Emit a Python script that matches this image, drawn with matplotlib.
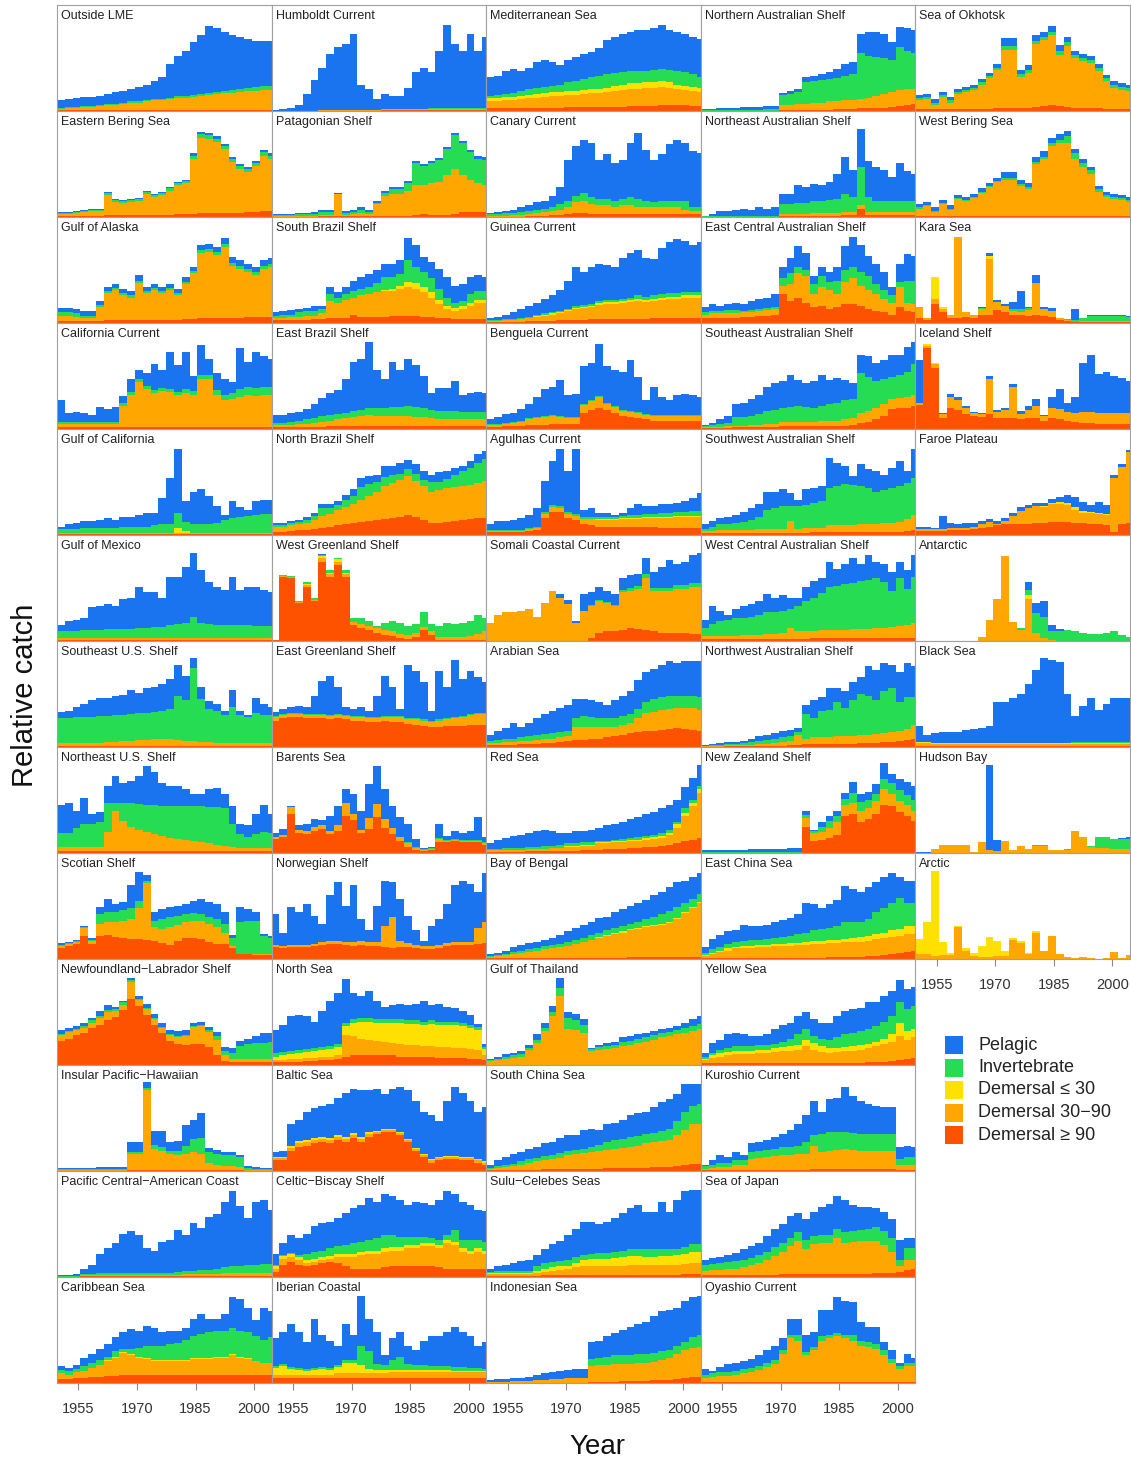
import numpy as np
import matplotlib
matplotlib.use('Agg')
import matplotlib.pyplot as plt
from matplotlib.patches import Rectangle

plt.rcParams['font.family'] = ['Liberation Sans', 'DejaVu Sans']

# two-year bins, 1950-51 ... 2004
years = list(range(1950, 2005, 2))

regions = [
    # column 1
    "Outside LME", "Eastern Bering Sea", "Gulf of Alaska", "California Current",
    "Gulf of California", "Gulf of Mexico", "Southeast U.S. Shelf", "Northeast U.S. Shelf",
    "Scotian Shelf", "Newfoundland\u2212Labrador Shelf", "Insular Pacific\u2212Hawaiian",
    "Pacific Central\u2212American Coast", "Caribbean Sea",
    # column 2
    "Humboldt Current", "Patagonian Shelf", "South Brazil Shelf", "East Brazil Shelf",
    "North Brazil Shelf", "West Greenland Shelf", "East Greenland Shelf", "Barents Sea",
    "Norwegian Shelf", "North Sea", "Baltic Sea", "Celtic\u2212Biscay Shelf", "Iberian Coastal",
    # column 3
    "Mediterranean Sea", "Canary Current", "Guinea Current", "Benguela Current",
    "Agulhas Current", "Somali Coastal Current", "Arabian Sea", "Red Sea", "Bay of Bengal",
    "Gulf of Thailand", "South China Sea", "Sulu\u2212Celebes Seas", "Indonesian Sea",
    # column 4
    "Northern Australian Shelf", "Northeast Australian Shelf", "East Central Australian Shelf",
    "Southeast Australian Shelf", "Southwest Australian Shelf", "West Central Australian Shelf",
    "Northwest Australian Shelf", "New Zealand Shelf", "East China Sea", "Yellow Sea",
    "Kuroshio Current", "Sea of Japan", "Oyashio Current",
    # column 5
    "Sea of Okhotsk", "West Bering Sea", "Kara Sea", "Iceland Shelf", "Faroe Plateau",
    "Antarctic", "Black Sea", "Hudson Bay", "Arctic",
]
panels_per_column = [13, 13, 13, 13, 9]

# relative catch (% of panel height), one list per region, same order as regions
demersal_large = [
    [1] * 28,
    [1,1,1,1,1,1,2, 2,2,2,2,2,2,2, 2,3,3,3,4,4,4, 4,4,4,5,5,6,6],
    [2,2,2,2,2,2,3, 3,3,3,3,3,3,3, 3,3,4,4,5,5,5, 5,5,5,6,6,6,6],
    [2] * 28,
    [1] * 28,
    [1] * 28,
    [1] * 28,
    [2] * 28,
    [10,12,14,22,14,22,23, 21,20,19,19,18,17,15, 13,17,20,20,19,16,14, 14,10,5,5,4,4,4],
    [23,25,28,30,35,38,42, 45,52,62,56,47,38,30, 23,20,19,20,20,17,9, 4,3,3,3,3,3,3],
    [0,0,0,0,0,0,0, 0,0,1,1,1,1,1, 1,1,1,1,1,1,1, 1,1,1,0,0,0,0],
    [0,0,0,1,1,1,1, 1,1,1,1,1,1,1, 1,1,1,1,1,1,1, 1,1,1,1,1,1,1],
    [4,4,5,5,6,6,7, 7,8,8,8,8,8,8, 8,8,8,8,8,8,8, 8,8,8,8,8,8,8],
    [0,0,0,0,0,0,0, 0,0,0,0,0,0,0, 1,1,1,1,1,1,1, 1,1,1,1,1,1,1],
    [0,0,0,0,0,0,1, 1,1,1,1,1,1,1, 1,1,1,1,2,3,2, 2,2,3,5,5,5,5],
    [3,3,3,3,3,4,4, 5,5,5,8,6,6,6, 6,7,7,7,7,6,6, 5,5,4,4,4,4,4],
    [2,2,2,2,2,2,2, 3,3,3,3,3,3,3, 3,3,3,3,3,3,3, 3,3,3,3,3,3,3],
    [3,3,4,5,5,6,7, 8,9,10,11,12,13,14, 15,16,17,19,17,14,11, 11,12,13,14,15,16,16],
    [1,60,59,36,51,38,75, 60,72,60,15,12,10,8, 6,5,3,2,4,10,6, 1,1,1,1,1,1,1],
    [25,27,28,28,27,27,27, 26,27,26,25,25,24,24, 25,24,24,22,21,20,19, 19,20,20,20,21,21,21],
    [13,15,37,19,18,21,23, 18,21,35,31,19,23,34, 24,18,11,6,3,2,3, 10,10,11,10,10,10,8],
    [11,10,11,11,11,12,13, 14,14,13,12,13,12,12, 11,10,11,11,10,9,9, 10,12,13,13,13,14,15],
    [3,3,3,3,4,4,5, 5,6,8,9,9,9,9, 9,9,8,8,8,8,8, 7,7,7,7,6,6,5],
    [10,10,19,23,24,26,27, 26,29,27,31,27,32,35, 37,37,34,27,19,13,8, 10,11,11,10,10,8,6],
    [5,11,14,11,10,11,13, 14,13,10,8,8,8,8, 9,10,10,10,10,10,10, 9,8,8,8,8,8,8],
    [5] * 28,
    [3,3,3,3,3,3,3, 3,3,3,4,4,4,4, 4,4,4,4,5,5,5, 5,6,6,6,6,5,5],
    [0,0,0,0,0,1,1, 1,2,2,3,4,4,3, 3,3,3,3,3,3,3, 3,3,3,3,3,3,3],
    [1,1,1,1,1,2,2, 2,2,3,3,3,3,4, 4,4,4,4,4,4,4, 5,5,5,5,5,5,5],
    [2,2,3,3,3,4,4, 4,5,5,5,5,15,18, 20,18,15,12,11,10,9, 8,8,8,8,8,8,8],
    [3,3,3,3,3,4,5, 16,22,22,16,14,10,9, 8,8,8,8,8,8,8, 8,7,7,7,7,7,7],
    [0,0,0,0,0,0,0, 0,0,0,0,0,0,3, 8,9,9,10,12,11,10, 9,8,8,8,8,7,7],
    [2,2,2,2,3,3,3, 4,4,5,6,7,7,8, 8,9,10,11,13,14,15, 15,16,17,18,17,16,15],
    [1,1,1,1,1,2,2, 2,2,2,2,2,3,3, 3,4,4,4,5,5,6, 6,7,8,9,11,12,14],
    [1,1,1,1,1,1,1, 1,1,1,1,1,1,1, 1,1,1,1,2,2,2, 2,2,2,2,2,2,2],
    [0] * 28,
    [1,1,1,1,1,1,1, 2,2,2,2,2,2,2, 2,3,3,3,3,3,3, 4,4,4,5,6,7,7],
    [1,1,1,1,1,1,1, 2,2,2,2,2,2,2, 2,2,2,2,2,2,2, 2,2,2,2,3,3,3],
    [0,0,0,0,0,0,0, 0,0,0,0,0,0,1, 1,1,1,2,2,2,2, 3,3,3,4,5,6,6],
    [0,0,0,0,0,0,0, 0,0,0,1,1,1,1, 1,1,1,2,2,2,3, 3,3,3,4,5,6,7],
    [0,0,0,0,0,0,0, 0,0,0,1,1,1,1, 1,1,1,1,2,2,8, 2,2,2,2,2,2,2],
    [5,5,5,5,5,6,6, 7,7,8,27,21,24,19, 15,16,13,15,18,18,16, 13,11,10,8,15,11,10],
    [1,1,1,1,2,2,2, 2,2,2,3,3,3,3, 3,3,3,3,3,4,6, 7,9,12,19,20,20,22],
    [2,2,2,2,2,2,2, 2,2,2,2,2,2,2, 3,3,3,3,3,3,3, 3,3,3,3,3,4,5],
    [2,2,2,2,2,2,2, 2,2,2,2,2,2,2, 3,3,3,3,3,3,3, 3,3,3,3,3,3,3],
    [0,0,0,1,1,1,1, 1,1,1,1,2,2,3, 3,3,3,3,3,3,4, 4,4,5,5,6,7,8],
    [0,0,0,0,0,0,0, 0,0,0,0,0,0,25, 11,12,14,17,35,37,29, 32,37,45,44,39,35,30],
    [1,1,1,1,1,1,1, 1,1,1,1,1,1,1, 1,1,2,2,2,2,2, 3,3,4,5,6,7,8],
    [2,2,2,2,2,2,2, 2,2,2,2,2,2,2, 2,2,2,2,2,2,2, 3,3,3,4,5,6,7],
    [1,1,1,1,1,1,1, 1,1,1,1,1,1,1, 2,2,2,2,2,2,2, 2,2,2,2,1,1,1],
    [2,2,2,2,2,2,2, 2,2,2,3,3,3,3, 3,3,3,3,3,3,3, 3,4,4,4,5,7,8],
    [1] * 28,
    [2,2,2,2,2,2,2, 2,2,2,3,3,3,3, 3,4,5,6,5,4,3, 3,3,3,2,2,2,2],
    [1] * 28,
    [5,3,18,10,5,5,6, 5,8,8,12,10,8,8, 7,8,7,6,3,2,1, 1,1,1,1,1,1,1],
    [23,76,58,10,20,18,14, 12,11,14,10,10,10,9, 10,10,8,10,9,8,7, 6,6,5,5,5,5,5],
    [4,4,4,4,5,5,5, 6,7,8,9,10,10,10, 10,11,11,12,12,12,11, 11,10,10,9,3,10,11],
    [0] * 28,
    [1] * 28,
    [0] * 28,
    [0] * 28,
]

demersal_mid = [
    [1,2,2,3,3,4,5, 5,6,7,7,8,9,9, 10,11,11,12,13,14,15, 16,16,17,18,18,19,19],
    [2,2,3,4,5,5,19, 12,11,12,13,20,17,19, 23,27,29,52,71,70,67, 60,48,41,37,43,52,49],
    [5,5,4,3,3,13,25, 28,23,21,35,25,28,25, 28,23,33,43,61,62,59, 67,49,46,42,39,45,47],
    [3,3,3,3,3,3,3, 3,20,30,42,36,32,34, 33,30,32,30,45,45,30, 25,26,28,30,29,30,30],
    [1] * 28,
    [2] * 28,
    [3,3,3,3,3,3,4, 4,5,5,6,6,7,7, 7,6,5,5,4,4,3, 3,3,3,3,3,3,3],
    [4,4,4,4,4,4,18, 38,28,23,20,18,16,14, 12,11,10,9,8,7,6, 5,4,3,3,3,3,3],
    [2,2,2,7,3,11,12, 14,16,19,29,54,13,13, 17,15,15,16,17,17,16, 11,2,0,0,1,1,1],
    [5,6,5,5,5,6,8, 6,5,16,5,6,5,5, 5,6,8,16,17,14,15, 5,3,3,3,3,3,3],
    [1,1,1,1,1,1,1, 1,1,15,15,75,20,18, 15,14,15,17,15,7,5, 4,4,3,1,1,1,1],
    [0,0,0,1,1,1,1, 1,1,1,1,1,1,1, 1,1,2,2,2,2,2, 3,3,3,3,3,3,3],
    [5,4,5,6,8,11,14, 17,20,18,16,15,13,13, 13,13,13,15,15,15,16, 16,18,16,15,13,11,11],
    [0,0,0,0,0,0,1, 1,1,1,1,1,1,1, 1,1,1,1,1,1,1, 1,1,1,1,1,1,1],
    [1,1,1,1,1,1,1, 1,21,1,2,3,2,11, 19,21,21,24,28,27,30, 31,38,42,35,30,27,25],
    [2,2,3,3,4,3,5, 16,14,17,16,20,21,23, 24,23,25,27,25,23,18, 13,8,7,9,12,15,15],
    [2,2,2,3,3,4,5, 5,6,7,8,9,10,9, 9,9,9,9,8,8,7, 6,6,6,6,6,6,6],
    [5,5,5,5,6,8,11, 12,15,16,18,21,24,27, 31,33,35,37,34,32,30, 31,32,32,32,32,33,35],
    [0,1,1,1,2,1,3, 3,3,3,3,4,4,4, 4,4,4,4,4,3,3, 3,3,3,3,4,6,8],
    [3,3,3,3,3,3,3, 3,3,3,3,3,3,3, 3,4,4,4,5,5,5, 6,6,7,8,9,10,10],
    [2,2,6,3,3,4,3, 3,5,12,6,3,10,12, 8,6,4,3,2,1,1, 3,1,1,1,1,1,1],
    [2,2,2,2,2,2,3, 3,3,3,4,4,4,4, 20,30,6,4,3,3,3, 3,3,3,3,3,15,20],
    [2,2,3,3,3,3,3, 3,3,20,18,16,15,14, 13,12,12,11,11,10,10, 10,10,9,9,9,8,4],
    [2,2,3,3,3,3,3, 3,3,3,3,3,3,2, 2,2,2,2,2,2,2, 2,2,2,2,2,2,2],
    [3,6,5,5,3,3,3, 3,6,9,11,13,14,14, 15,15,15,17,17,19,19, 18,24,22,16,14,16,14],
    [3,3,3,3,3,3,3, 3,4,4,4,4,4,4, 4,5,5,5,5,5,5, 5,5,5,5,5,5,5],
    [6,6,7,7,8,9,9, 10,11,11,11,11,12,13, 13,14,15,16,16,16,17, 17,17,16,15,14,14,13],
    [1,1,1,2,2,2,3, 4,4,5,6,10,11,9, 8,8,6,8,8,6,6, 6,6,6,6,4,3,3],
    [1,1,2,2,3,3,4, 5,6,6,8,10,11,11, 13,14,14,15,16,17,16, 16,17,18,18,19,19,19],
    [2,2,2,3,4,5,6, 7,7,6,5,5,8,8, 10,6,6,5,5,5,4, 4,4,4,4,4,4,4],
    [1,1,1,1,1,2,2, 4,4,3,4,4,5,6, 6,6,6,7,7,7,8, 8,9,9,10,10,10,10],
    [17,25,27,27,28,30,23, 36,47,41,35,17,28,30, 30,27,24,36,35,38,49, 38,39,39,41,41,44,44],
    [2,2,3,3,3,3,4, 4,4,4,4,12,12,11, 11,10,9,10,10,13,17, 18,19,19,19,20,21,20],
    [2,2,2,2,2,2,2, 2,3,3,4,4,4,4, 6,5,6,6,6,6,6, 7,7,9,15,24,32,43],
    [1,2,3,4,5,6,7, 8,9,10,11,13,15,17, 19,21,23,24,25,26,28, 29,30,32,36,41,46,51],
    [4,5,6,7,8,14,21, 32,46,65,34,33,30,13, 14,15,16,18,19,21,22, 24,26,27,29,30,32,34],
    [1,2,3,4,5,7,8, 8,9,10,13,14,15,16, 17,17,18,19,20,21,23, 23,24,25,29,33,37,37],
    [2,2,2,2,2,2,3, 3,4,5,6,7,8,8, 8,8,8,8,9,9,9, 9,9,9,9,9,10,10],
    [1,1,1,2,2,2,3, 3,4,4,5,5,5,15, 16,16,17,16,16,17,17, 17,19,21,23,26,27,28],
    [0,0,0,0,0,0,0, 0,0,0,5,5,6,6, 7,7,8,7,8,8,8, 9,11,13,14,15,15,14],
    [0,0,0,0,0,0,0, 0,0,0,2,2,2,2, 3,3,3,3,3,3,3, 3,3,3,3,3,3,3],
    [3,4,4,4,4,4,4, 4,5,5,8,16,23,25, 12,18,18,12,21,24,19, 18,16,13,11,19,8,8],
    [1,1,1,2,1,1,2, 2,3,3,4,4,4,4, 4,5,5,5,6,6,9, 10,11,12,9,9,10,10],
    [2,2,3,3,3,3,3, 4,4,4,4,11,4,5, 4,4,6,6,6,6,7, 7,7,8,8,9,11,14],
    [3,3,3,3,3,4,4, 4,5,5,6,10,7,7, 6,7,7,7,7,8,8, 8,9,9,10,11,12,14],
    [1,1,1,1,1,1,1, 2,2,3,4,4,9,5, 6,6,6,7,7,7,7, 7,8,8,9,9,10,13],
    [0,0,0,0,0,0,0, 0,0,0,0,0,0,8, 8,8,10,12,10,10,11, 10,12,15,12,10,10,10],
    [2,4,6,7,9,9,9, 10,10,11,11,11,12,12, 13,13,13,13,14,14,14, 14,16,16,16,16,17,16],
    [3,5,6,7,8,8,8, 9,9,10,11,11,12,16, 12,10,9,10,11,11,12, 13,15,17,18,22,18,19],
    [1,2,3,3,5,5,10, 11,12,13,14,14,15,15, 22,16,17,18,19,18,17, 17,17,17,17,5,5,5],
    [4,5,5,6,6,7,9, 11,14,18,21,26,31,23, 28,29,29,34,29,30,31, 31,30,26,20,5,9,8],
    [4,5,6,6,7,8,9, 11,14,17,26,41,39,25, 30,39,41,43,41,39,34, 33,31,25,18,12,15,15],
    [8,9,4,11,6,14,16, 18,23,29,36,55,55,29, 33,59,62,66,48,57,47, 44,42,35,26,20,18,17],
    [7,9,4,11,6,16,14, 17,22,27,32,34,34,28, 25,49,54,66,69,69,54, 46,40,23,18,16,15,13],
    [10,2,5,3,3,76,4, 3,5,52,8,6,3,2, 5,30,6,5,2,1,0, 1,1,1,1,1,1,1],
    [2,2,3,4,10,9,6, 3,3,33,6,8,30,5, 8,12,4,10,10,8,8, 10,10,10,10,10,10,10],
    [2,2,2,2,2,2,2, 2,3,4,1,3,8,13, 15,16,15,17,17,16,13, 10,11,10,10,51,54,67],
    [0,0,0,0,0,0,0, 0,4,20,40,80,18,10, 40,8,3,1,0,0,0, 0,0,0,0,0,0,0],
    [3,3,2,2,2,2,2, 2,2,2,2,2,2,2, 2,2,2,2,2,2,2, 2,2,2,2,2,2,2],
    [0,0,4,8,8,8,8, 1,10,3,2,11,3,7, 4,7,7,3,3,3,21, 15,6,5,5,4,4,4],
    [5,5,3,4,4,30,8, 3,2,2,3,3,18,15, 5,25,8,22,5,2,1, 2,1,0,1,7,1,4],
]

demersal_small = [
    [0] * 28, [0] * 28, [0] * 28, [0] * 28,
    [0,0,0,0,0,0,0, 0,0,0,0,0,0,0, 0,5,2,0,0,0,0, 0,0,0,0,0,0,0],
    [0] * 28, [0] * 28, [0] * 28, [0] * 28, [0] * 28, [0] * 28, [0] * 28,
    [0,0,0,0,0,0,1, 1,1,1,1,1,1,1, 1,1,1,1,1,1,1, 1,1,1,1,0,0,0],
    [0] * 28, [0] * 28,
    [0,0,0,0,0,0,0, 0,0,0,0,0,0,0, 1,2,3,5,6,5,5, 4,3,3,3,3,3,3],
    [0] * 28, [0] * 28,
    [0,0,0,0,1,0,2, 1,2,1,0,0,0,0, 0,0,0,0,0,0,0, 0,0,0,0,0,0,0],
    [0] * 28, [0] * 28, [0] * 28,
    [3,4,4,5,5,6,6, 7,8,9,13,16,17,17, 18,19,20,20,20,20,21, 21,21,22,21,20,19,6],
    [1,1,2,2,2,2,2, 2,2,2,2,2,2,1, 1,1,1,1,1,1,1, 1,1,1,1,1,1,1],
    [2,3,3,3,3,3,3, 3,3,3,3,3,3,3, 3,3,3,3,3,3,3, 3,3,3,3,3,3,3],
    [6,8,5,4,3,4,5, 4,6,10,10,8,4,3, 3,2,2,2,2,2,2, 2,2,1,1,1,1,1],
    [3,3,3,3,3,3,4, 4,4,4,4,4,4,4, 4,4,5,5,5,5,5, 5,5,5,4,4,4,4],
    [0] * 28,
    [0,0,0,0,0,0,1, 1,1,1,1,1,1,1, 2,2,2,2,2,2,2, 2,2,2,2,2,2,2],
    [0] * 28,
    [0,0,0,0,0,0,0, 0,0,0,0,0,0,0, 1,1,1,1,1,1,1, 1,1,1,1,1,1,1],
    [0] * 28, [0] * 28,
    [0,0,0,0,0,0,0, 0,0,0,1,1,1,1, 1,1,1,1,1,1,2, 2,2,2,3,3,3,3],
    [0,0,0,0,0,0,0, 0,0,0,0,0,0,0, 1,1,1,1,1,1,1, 1,1,1,1,1,1,1],
    [0] * 28, [0] * 28,
    [1,1,1,1,1,1,2, 3,3,3,2,4,6,7, 7,7,8,9,9,9,8, 8,9,9,10,10,11,11],
    [0] * 28,
    [0] * 28, [0] * 28, [0] * 28, [0] * 28, [0] * 28, [0] * 28, [0] * 28, [0] * 28,
    [1,1,1,2,1,2,2, 2,2,2,2,3,2,3, 3,3,3,3,3,4,5, 5,5,5,6,6,7,7],
    [1,2,3,3,3,3,3, 3,3,4,4,5,5,6, 7,6,5,4,4,5,5, 4,4,5,7,13,8,8],
    [0] * 28, [0] * 28, [0] * 28, [0] * 28, [0] * 28,
    [0,0,20,2,0,0,0, 0,0,3,0,0,0,0, 0,0,0,0,0,0,0, 0,0,0,0,0,0,0],
    [0,2,1,0,0,0,0, 0,0,0,0,0,0,0, 0,0,0,0,0,0,0, 0,0,0,0,0,0,0],
    [0,0,0,0,0,0,0, 0,0,0,0,0,0,0, 0,0,1,1,2,2,2, 2,1,1,1,0,0,0],
    [0,0,0,0,0,0,0, 0,0,0,0,0,0,0, 3,0,0,0,0,0,0, 0,0,0,0,0,0,0],
    [1] * 28,
    [0] * 28,
    [14,30,80,12,2,1,2, 3,10,19,14,5,2,2, 1,1,0,0,0,0,0, 0,0,0,0,0,0,0],
]

invertebrate = [
    [1,1,1,1,1,1,1, 1,1,1,1,1,1,1, 1,2,2,2,2,2,2, 2,3,3,3,4,4,4],
    [1,1,1,1,1,1,2, 2,2,2,2,2,2,2, 2,2,2,3,3,3,3, 3,3,3,3,3,3,3],
    [3,3,3,2,2,2,2, 2,2,2,2,2,2,2, 2,2,2,2,3,3,3, 3,3,3,3,3,3,3],
    [2,2,2,2,2,2,2, 2,3,3,3,3,3,3, 3,3,4,4,4,4,5, 5,6,8,8,8,8,8],
    [4,4,4,5,5,5,5, 5,6,6,6,6,7,8, 8,14,8,8,8,8,9, 12,14,15,16,17,18,18],
    [6,6,6,7,7,7,8, 8,8,8,9,9,10,10, 12,13,14,20,14,13,12, 12,12,12,12,11,11,11],
    [23,23,24,24,24,25,24, 25,24,25,25,25,25,26, 28,41,38,69,40,31,30, 26,34,26,24,28,26,26],
    [13,13,18,21,21,23,27, 7,17,22,24,25,27,28, 30,31,32,33,34,34,35, 35,21,13,10,13,15,14],
    [1,1,1,1,1,9,9, 9,10,10,7,2,6,10, 10,9,7,7,6,7,8, 8,8,30,31,31,17,15],
    [1,1,1,2,2,2,2, 2,2,2,1,1,1,1, 1,1,1,1,1,2,3, 4,5,12,14,15,15,16],
    [1,1,1,1,1,1,1, 1,1,2,2,2,4,4, 3,4,8,12,15,10,10, 10,10,9,2,1,1,1],
    [1,1,1,1,1,2,2, 2,2,2,2,2,2,2, 2,3,3,3,4,4,5, 5,6,6,7,7,8,8],
    [3,3,3,5,5,5,3, 5,3,5,8,11,13,13, 15,16,19,20,22,24,24, 24,25,24,24,23,22,24],
    [0,0,0,0,0,0,0, 0,0,0,0,0,0,0, 0,0,0,0,0,0,1, 1,1,1,1,1,1,1],
    [1,1,1,2,2,2,3, 3,0,2,2,3,2,1, 3,4,4,7,21,18,19, 21,24,32,30,26,23,24],
    [2,3,2,4,4,4,4, 6,5,5,6,6,7,9, 12,11,11,20,15,14,13, 10,8,5,5,8,8,8],
    [2,2,3,3,4,4,5, 5,5,5,6,6,7,8, 8,9,9,10,10,9,8, 8,8,8,7,7,7,7],
    [1,1,2,2,3,4,7, 5,4,7,8,12,11,9, 9,8,6,6,7,6,9, 8,9,12,14,16,19,21],
    [0,1,1,1,2,2,1, 3,1,3,4,6,5,2, 7,10,10,8,8,14,7, 10,13,12,13,14,18,13],
    [1] * 28,
    [0,0,0,0,0,0,0, 0,0,0,0,0,0,0, 0,0,0,1,1,1,1, 1,1,1,1,1,1,1],
    [0] * 28,
    [3,3,3,3,3,3,3, 3,3,3,3,3,3,3, 3,3,3,3,3,3,3, 3,3,3,3,3,3,2],
    [0] * 28,
    [1,1,1,2,6,7,6, 7,7,8,10,9,10,12, 13,12,10,8,8,6,5, 5,5,11,8,10,8,8],
    [2,2,2,2,2,2,2, 2,2,3,3,18,17,6, 5,10,13,6,5,5,4, 4,4,4,4,3,3,2],
    [2,3,3,4,5,6,6, 6,6,7,8,9,10,11, 12,13,12,12,12,12,11, 12,12,12,13,13,12,10],
    [2,2,3,2,3,3,3, 3,3,5,6,6,8,7, 6,6,6,6,8,8,6, 5,6,6,6,8,3,3],
    [1,1,1,1,1,1,1, 1,1,1,1,2,2,2, 2,2,2,2,2,3,3, 3,3,3,3,3,3,3],
    [1] * 28,
    [1,1,1,1,1,1,1, 2,2,2,2,2,2,2, 2,2,2,2,3,3,3, 3,4,4,4,4,5,5],
    [0,0,0,0,0,0,0, 0,0,0,0,0,0,1, 1,1,1,2,3,3,4, 3,3,3,4,4,4,4],
    [2,3,3,3,3,4,4, 4,5,5,5,8,10,9, 8,8,8,8,8,9,10, 12,12,12,11,11,11,12],
    [1,1,2,2,2,2,2, 3,2,3,2,2,2,2, 1,1,1,2,2,3,2, 2,3,3,2,4,3,3],
    [1,1,1,2,2,2,2, 3,3,3,4,4,4,5, 4,4,4,5,5,6,7, 8,9,10,10,9,8,7],
    [1,1,2,2,2,2,3, 3,4,8,10,9,8,2, 3,3,3,4,4,4,4, 4,4,4,4,5,5,5],
    [1,2,2,2,3,3,3, 4,4,5,4,4,4,5, 6,7,8,8,9,9,9, 9,10,11,13,17,17,19],
    [1,2,2,2,2,2,4, 5,5,5,6,6,5,5, 6,6,6,6,6,6,7, 7,6,6,5,6,7,7],
    [0,0,0,0,0,0,0, 0,0,0,0,0,0,7, 7,8,8,8,8,8,8, 8,8,7,8,8,10,11],
    [1,1,1,1,1,1,1, 1,2,2,9,10,11,20, 20,21,21,22,23,25,44, 40,37,34,30,40,36,34],
    [1,1,1,1,1,1,1, 1,1,1,9,9,10,10, 11,11,12,13,17,14,36, 14,10,10,10,10,10,10],
    [2,2,2,3,3,1,2, 2,2,2,7,10,6,6, 10,10,8,13,11,11,13, 13,10,8,7,5,21,22],
    [1,2,3,3,8,8,8, 10,12,13,13,14,15,14, 13,14,16,17,18,18,38, 32,25,23,21,22,24,29],
    [2,4,5,5,6,7,9, 11,18,19,21,14,21,21, 23,25,35,37,39,38,36, 34,31,31,33,34,34,35],
    [7,11,14,15,17,16,17, 19,20,20,20,18,24,29, 32,35,41,42,44,44,46, 47,47,44,34,45,34,43],
    [0,1,1,1,1,2,3, 3,4,4,4,4,3,23, 18,25,26,32,27,34,39, 37,32,40,42,27,30,26],
    [1,1,1,1,1,1,1, 1,1,1,1,1,1,3, 2,5,6,6,6,10,8, 8,7,10,10,10,10,10],
    [2,3,3,4,5,5,6, 5,6,6,7,7,9,9, 10,11,11,13,16,15,14, 16,20,23,26,30,22,22],
    [2,2,3,4,5,5,5, 5,5,4,5,7,10,10, 6,7,8,10,12,12,13, 14,15,16,17,19,21,22],
    [3,3,4,4,4,4,7, 7,7,7,8,8,8,11, 10,17,18,17,16,16,16, 16,16,16,16,5,7,7],
    [5,5,6,6,7,7,7, 8,8,8,8,8,8,9, 8,8,8,8,10,10,10, 11,13,13,13,6,11,11],
    [3,3,3,3,3,4,4, 4,4,4,4,3,5,3, 3,4,3,3,3,5,5, 5,5,5,4,3,3,3],
    [2,2,2,2,2,2,2, 2,2,2,2,3,3,3, 3,3,3,3,4,4,3, 3,3,3,3,3,3,3],
    [1,1,1,1,1,1,1, 1,1,1,1,2,2,2, 2,2,2,3,3,6,5, 4,3,2,2,2,2,2],
    [0,0,0,0,0,0,0, 0,1,0,0,0,2,3, 2,0,0,0,0,1,2, 3,5,5,5,5,5,4],
    [0] * 28,
    [0] * 28,
    [0,0,0,0,0,0,0, 0,0,0,0,0,0,2, 5,18,20,8,9,10,9, 8,7,7,8,9,6,4],
    [0,0,0,0,0,0,0, 0,0,0,0,0,0,0, 0,0,0,0,0,0,1, 1,1,1,1,1,1,1],
    [0,0,0,0,0,0,0, 0,0,0,0,0,0,0, 0,1,1,0,0,1,0, 0,1,10,10,9,9,9],
    [0] * 28,
]

pelagic = [
    [7,7,8,8,8,8,9, 11,11,12,14,15,17,21, 32,38,43,50,56,63,60, 56,52,49,46,43,42,42],
    [1,1,1,1,1,1,1, 1,1,1,1,1,1,1, 1,1,1,2,2,2,2, 2,2,2,2,2,2,2],
    [4,4,4,4,4,4,4, 4,4,4,5,4,4,4, 4,4,4,4,5,5,5, 5,5,5,5,5,5,5],
    [20,8,9,8,6,14,12, 14,6,12,9,12,24,17, 35,25,35,14,28,15,16, 15,10,38,23,34,29,26],
    [2,4,5,6,6,7,9, 7,9,9,11,13,12,25, 44,60,20,31,33,27,16, 5,16,9,6,13,13,13],
    [6,10,11,12,22,23,24, 22,29,30,39,34,33,28, 45,44,53,60,50,40,36, 33,45,33,36,37,34,32],
    [6,7,10,13,16,17,17, 18,19,23,19,24,24,25, 28,29,23,9,12,7,7, 4,16,4,2,14,11,8],
    [26,28,16,25,10,10,16, 26,19,21,27,37,31,22, 19,19,16,12,12,17,18, 14,17,9,11,19,25,18],
    [2,1,1,1,2,7,13, 8,8,22,27,5,8,9, 9,9,10,12,15,14,14, 11,3,14,11,8,2,2],
    [4,3,3,3,2,5,5, 2,1,2,3,4,4,4, 4,5,5,3,3,3,4, 4,5,5,5,6,9,8],
    [1,1,1,1,1,2,2, 2,2,9,9,6,13,15, 8,9,19,18,24,4,4, 3,3,2,2,2,1,1],
    [1,1,2,5,8,18,23, 28,37,39,36,23,21,29, 31,39,34,45,39,50,51, 62,71,57,45,60,61,51],
    [4,3,4,8,8,10,12, 13,16,19,16,19,17,13, 12,11,11,16,19,12,11, 16,29,30,23,15,30,25],
    [1,2,3,6,16,29,40, 53,59,62,72,24,20,10, 14,12,12,20,35,39,34, 54,78,60,54,70,54,67],
    [1,1,1,1,1,2,2, 2,1,2,2,2,2,2, 2,2,2,2,2,2,2, 2,2,2,2,2,3,3],
    [3,3,4,3,3,5,3, 7,5,7,10,11,12,12, 13,13,13,21,21,14,16, 19,19,16,16,16,15,13],
    [7,7,8,8,10,14,17, 21,23,32,46,48,62,36, 27,42,35,44,39,30,16, 22,22,28,16,18,19,18],
    [2,2,2,2,3,3,4, 4,4,5,6,9,8,7, 10,8,10,9,9,8,7, 9,7,6,5,7,8,7],
    [0,0,0,0,0,0,1, 0,0,0,0,0,0,0, 0,0,0,0,0,0,0, 0,0,0,0,0,0,0],
    [4,5,6,7,7,17,31, 37,26,8,7,9,6,20, 38,28,7,50,45,35,9, 46,30,54,35,41,34,29],
    [4,6,1,4,6,7,5, 14,18,13,19,18,32,36, 28,20,19,17,7,1,1, 13,4,8,7,9,22,5],
    [29,13,36,31,39,27,17, 43,56,34,54,21,11,34, 43,33,40,26,14,5,19, 25,37,54,58,55,34,46],
    [22,26,33,33,31,25,34, 42,48,41,25,21,26,17, 12,14,15,15,16,19,15, 17,14,13,11,9,3,3],
    [5,6,20,20,27,28,29, 32,35,42,41,44,39,39, 33,37,42,46,44,40,42, 34,52,65,61,53,45,51],
    [11,11,17,16,19,24,26, 25,27,30,33,35,40,34, 38,36,35,30,33,32,31, 38,41,34,36,33,28,29],
    [26,30,41,34,26,46,30, 26,18,34,23,47,30,30, 9,20,23,17,14,23,28, 28,32,38,33,30,21,26],
    [18,18,22,23,19,20,24, 25,22,18,21,23,24,24, 26,32,34,36,37,38,38, 39,41,37,37,36,35,36],
    [1,2,2,3,4,5,7, 7,11,16,39,47,50,51, 37,42,36,37,51,62,48, 40,44,54,58,55,53,51],
    [2,3,4,6,8,10,11, 14,16,20,27,37,31,35, 35,33,31,38,42,43,36, 34,44,48,51,48,45,47],
    [4,6,8,8,11,14,19, 26,27,34,21,22,35,35, 49,34,34,36,48,33,13, 27,17,14,19,20,19,17],
    [5,8,8,9,11,12,17, 29,42,54,38,61,7,8, 4,4,2,3,6,10,7, 7,8,8,8,10,12,17],
    [0,0,0,0,0,0,0, 0,0,3,4,2,16,12, 12,10,10,11,12,11,15, 15,20,26,20,22,26,28],
    [5,8,10,15,10,13,16, 19,21,23,25,18,16,16, 15,13,17,19,22,27,29, 29,30,33,31,33,33,34],
    [5,8,9,11,12,13,15, 15,14,11,10,12,11,12, 13,15,15,16,18,19,21, 22,23,23,21,20,21,20],
    [2,2,3,4,5,6,6, 6,7,9,10,11,12,12, 14,13,15,16,17,18,18, 20,21,23,24,21,20,20],
    [1,2,2,2,3,3,5, 5,6,9,6,6,5,1, 2,3,3,4,4,4,4, 4,4,4,4,5,6,7],
    [3,5,7,9,9,10,11, 12,12,14,15,14,18,17, 14,17,16,18,21,22,21, 24,27,28,26,26,21,19],
    [3,4,5,7,9,10,11, 13,17,19,24,26,31,30, 27,29,32,35,39,42,35, 35,45,35,47,53,51,51],
    [2,3,3,3,3,4,5, 6,6,7,7,8,8,16, 16,19,21,24,27,29,31, 35,38,38,36,38,38,37],
    [1,1,2,2,2,3,3, 3,3,3,2,3,3,5, 5,6,7,9,11,11,18, 23,24,23,17,19,21,21],
    [0,2,5,5,6,7,6, 8,7,8,10,10,17,15, 16,15,17,24,35,25,36, 34,32,29,23,36,28,26],
    [5,7,5,6,7,7,9, 10,10,12,11,14,20,16, 7,9,9,13,23,28,26, 19,19,17,8,17,25,23],
    [1,2,4,6,13,14,16, 18,23,25,25,30,24,22, 25,29,22,23,19,15,17, 20,17,18,21,19,23,21],
    [4,5,6,7,8,10,11, 12,17,16,16,13,6,15, 14,14,29,22,17,9,21, 18,19,15,19,24,11,27],
    [8,17,9,5,8,11,12, 13,17,14,15,11,8,13, 16,14,24,16,19,23,16, 23,16,17,18,16,18,21],
    [1,1,2,2,2,2,3, 4,4,5,6,6,4,9, 17,13,21,14,16,17,16, 28,29,26,21,29,32,29],
    [2,2,2,2,2,2,3, 3,3,3,3,4,4,4, 1,4,5,5,6,10,8, 8,9,15,9,11,12,13],
    [5,10,12,12,11,15,13, 13,13,15,16,17,18,28, 25,20,23,25,34,31,28, 30,29,29,28,19,21,21],
    [3,10,10,13,12,11,9, 8,10,14,16,15,17,16, 16,15,16,20,22,23,22, 25,22,24,24,21,19,18],
    [1,4,7,5,8,5,8, 8,9,11,12,16,20,26, 32,21,31,32,42,35,31, 28,26,25,25,12,11,10],
    [5,6,6,7,8,10,11, 11,15,17,18,21,18,20, 22,26,29,31,31,25,22, 21,18,18,18,19,10,10],
    [5,2,5,8,8,8,9, 10,12,13,11,15,15,16, 14,25,24,34,32,31,18, 14,16,8,8,3,8,5],
    [3,3,3,3,3,3,3, 3,3,3,3,8,8,4, 4,6,5,5,5,5,4, 4,4,3,3,3,3,3],
    [3,3,3,3,3,3,3, 3,3,3,3,5,5,4, 4,5,5,5,5,5,4, 4,3,3,3,3,3,3],
    [0,0,0,0,0,0,0, 0,1,3,2,2,7,17, 1,7,2,3,0,0,10, 0,1,1,1,1,1,1],
    [40,0,0,1,3,3,2, 1,1,3,2,2,2,3, 4,6,1,10,19,9,15, 46,54,37,39,35,33,30],
    [2,2,1,12,4,3,4, 3,3,3,3,3,3,3, 3,3,3,4,5,8,10, 8,6,10,8,3,3,2],
    [0,0,0,0,0,0,0, 0,0,0,0,0,0,0, 8,10,15,6,2,0,0, 0,0,0,0,0,0,0],
    [15,6,9,10,10,10,12, 13,14,16,38,38,42,46, 55,69,80,78,76,46,24, 34,41,30,36,41,41,41],
    [1,1,0,0,0,0,0, 0,0,80,10,0,0,0, 0,0,0,0,0,0,0, 0,0,0,0,0,1,2],
    [0] * 28,
]

categories = ["Pelagic", "Invertebrate", "Demersal \u2264 30", "Demersal 30\u221290", "Demersal \u2265 90"]
cat_colors = ["#1b74ef", "#25dc52", "#ffe000", "#ffa600", "#ff5200"]

# stacking order, bottom to top
stack = [demersal_large, demersal_mid, demersal_small, invertebrate, pelagic]
stack_colors = cat_colors[::-1]

W, H = 1131, 1462
fig = plt.figure(figsize=(W / 100, H / 100), dpi=100)

left0, top0 = 57, 5
col_w = (1130 - 57) / 5
row_h = 106

yr = np.array(years, dtype=float)
edges = np.append(yr - 0.5, yr[-1] + 1.5)

problems = []
k = 0
for col, nrows in enumerate(panels_per_column):
    for row in range(nrows):
        px = left0 + col * col_w
        py = top0 + row * row_h
        ax = fig.add_axes([px / W, 1 - (py + row_h) / H, col_w / W, row_h / H])
        n = min(len(s[k]) for s in stack)
        if any(len(s[k]) != 28 for s in stack):
            problems.append((k, regions[k], [len(s[k]) for s in stack]))
        base = np.zeros(n)
        for series, c in zip(stack, stack_colors):
            v = np.array(series[k][:n], dtype=float)
            top = base + v
            ax.fill_between(edges[:n + 1], np.append(base, base[-1]), np.append(top, top[-1]),
                            step='post', facecolor=c, edgecolor='none', linewidth=0,
                            antialiased=False)
            base = top
        ax.set_xlim(1949.5, 2004.5)
        ax.set_ylim(0, 100)
        ax.set_yticks([])
        for sp in ax.spines.values():
            sp.set_color('#a0a0a0')
            sp.set_linewidth(0.8)
        if row == nrows - 1:
            ax.set_xticks([1955, 1970, 1985, 2000])
            ax.tick_params(axis='x', direction='out', length=5, width=0.8, color='#888888',
                           labelsize=10.5, labelcolor='#333333', pad=9)
        else:
            ax.set_xticks([])
        ax.text(4 / col_w, 1 - 5 / row_h, regions[k], transform=ax.transAxes,
                ha='left', va='top', fontsize=9, color='#222222')
        k += 1

fig.text(25 / W, 1 - 695 / H, "Relative catch", rotation=90, ha='center', va='center',
         fontsize=21, color='#111111')
fig.text(597 / W, 1 - 1447 / H, "Year", ha='center', va='center', fontsize=20, color='#111111')

# legend
for i, (lab, c) in enumerate(zip(categories, cat_colors)):
    cy = 1045 + i * 22.5
    fig.add_artist(Rectangle((945 / W, 1 - (cy + 9) / H), 18 / W, 18 / H,
                             transform=fig.transFigure, facecolor=c, edgecolor='none'))
    fig.text(978 / W, 1 - cy / H, lab, ha='left', va='center', fontsize=13, color='#222222')

fig.savefig("out.png", dpi=100)

if problems:
    raise SystemExit("length problems: %s" % problems)
